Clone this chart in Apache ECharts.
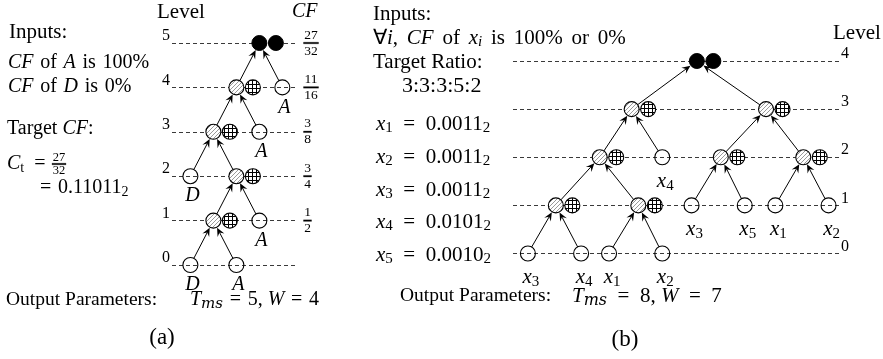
<!DOCTYPE html>
<html><head><meta charset="utf-8">
<script src="https://cdn.jsdelivr.net/npm/echarts@6/dist/echarts.min.js"></script>
<style>html,body{margin:0;padding:0;background:#fff}#c{width:883px;height:359px}</style>
</head><body><div id="c"></div>
<script>
// ---------- Panel (a) data ----------
const levelTicksA = ['0','1','2','3','4','5'];
const cfLevels = [1, 2, 3, 4, 5];
const cfNumerators = [1, 3, 3, 11, 27];
const cfDenominators = [2, 4, 8, 16, 32];
const nodeXA     = [0, 2, 1, 3, 0, 2, 1, 3, 2, 4, 3];
const nodeLevelA = [0, 0, 1, 1, 2, 2, 3, 3, 4, 4, 5];
const nodeKindA  = ['E','E','M','E','E','M','M','E','M','E','B'];
const nodeLabelA = ['D','A','','A','D','','','A','','A',''];
const edgesA = [[0,2],[1,2],[2,5],[3,5],[4,6],[5,6],[6,8],[7,8],[8,10],[9,10]];
const targetNum = 27, targetDen = 32, targetBinary = '0.11011';

// ---------- Panel (b) data ----------
const levelTicksB = ['0','1','2','3','4'];
const nodeXB     = [0, 2.0, 3.05, 5.05, 1.05, 4.15, 6.15, 8.15, 9.3, 11.3, 2.7, 5.05, 7.25, 10.35, 3.9, 8.95, 6.35];
const nodeLevelB = [0, 0, 0, 0, 1, 1, 1, 1, 1, 1, 2, 2, 2, 2, 3, 3, 4];
const nodeKindB  = ['E','E','E','E','M','M','E','E','E','E','M','E','M','M','M','M','B'];
const nodeLabelB = ['x3','x4','x1','x2','','','x3','x5','x1','x2','','x4','','','','',''];
const edgesB = [[0,4],[1,4],[2,5],[3,5],[4,10],[5,10],[6,12],[7,12],[8,13],[9,13],[10,14],[11,14],[12,15],[13,15],[14,16],[15,16]];
const ratioText = '3:3:3:5:2';
const xBinary = ['0.0011','0.0011','0.0011','0.0101','0.0010'];

// ---------- styles ----------
const F = '"Liberation Serif", "Times New Roman", serif';
const FW = '"DejaVu Serif", serif';
const R = 7.5;
const PAIR_DX = 16.5;
const X_MAX_A = 4.55, X_MIN_A = -0.8, X_MAX_B = 11.73, X_MIN_B = -0.56;
function makeHatch(){
  const c=document.createElement('canvas'); c.width=4; c.height=4;
  const g=c.getContext('2d'); g.fillStyle='#fff'; g.fillRect(0,0,4,4);
  g.strokeStyle='#808080'; g.lineWidth=0.8; g.beginPath();
  g.moveTo(0,4); g.lineTo(4,0); g.moveTo(-1,1); g.lineTo(1,-1); g.moveTo(3,5); g.lineTo(5,3); g.stroke();
  return {image:c, repeat:'repeat'};
}
function makeGrid(){
  const c=document.createElement('canvas'); c.width=4; c.height=4;
  const g=c.getContext('2d'); g.fillStyle='#fff'; g.fillRect(0,0,4,4);
  g.fillStyle='#000'; g.fillRect(0,0,4,1); g.fillRect(0,0,1,4);
  return {image:c, repeat:'repeat'};
}
const hatchFill = makeHatch();
const gridFill = makeGrid();

function makeRich(s){
  const sub = Math.round(s*0.7);
  const pad = Math.round(s*0.45);
  return {
    rm:  {fontFamily:F, fontSize:s, color:'#000'},
    it:  {fontFamily:F, fontSize:s, fontStyle:'italic', color:'#000'},
    tm:  {fontFamily:F, fontSize:21, color:'#000'},
    tmo: {fontFamily:F, fontSize:19.5, color:'#000'},
    tmr: {fontFamily:F, fontSize:22, color:'#000'},
    big: {fontFamily:F, fontSize:23, color:'#000'},
    sub: {fontFamily:F, fontSize:sub, color:'#000', padding:[pad,0,0,0]},
    subi:{fontFamily:F, fontSize:sub, fontStyle:'italic', color:'#000', padding:[pad,0,0,0]},
    subw:{fontFamily:FW, fontSize:sub+1, fontStyle:'italic', color:'#000', padding:[pad,0,0,0]}
  };
}
const richA = makeRich(20), richB = makeRich(21);
const EQ = '\u2002=\u2002';
const EQA = '\u2004=\u2004';
const SP = '\u2004\u200A';

function labelRich(lbl){
  if (lbl.length === 1) return '{it|' + lbl + '}';
  return '{it|' + lbl[0] + '}{sub|' + lbl.slice(1) + '}';
}

function edgeRenderer(){
  return function(params, api){
    const p1 = api.coord([api.value(0), api.value(1)]);
    const p2 = api.coord([api.value(2), api.value(3)]);
    const dx = p2[0]-p1[0], dy = p2[1]-p1[1];
    const len = Math.sqrt(dx*dx+dy*dy);
    const ux = dx/len, uy = dy/len, nx = -uy, ny = ux;
    const s = [p1[0]+ux*R, p1[1]+uy*R];
    const t = [p2[0]-ux*(R+0.5), p2[1]-uy*(R+0.5)];
    const L = 8.5, W = 3.8;
    const b = [t[0]-ux*L, t[1]-uy*L];
    const notch = [t[0]-ux*L*0.62, t[1]-uy*L*0.62];
    return {type:'group', children:[
      {type:'line', shape:{x1:s[0], y1:s[1], x2:notch[0], y2:notch[1]}, style:{stroke:'#000', lineWidth:1}},
      {type:'polygon', shape:{points:[t, [b[0]+nx*W, b[1]+ny*W], notch, [b[0]-nx*W, b[1]-ny*W]]}, style:{fill:'#000'}}
    ]};
  };
}

function nodeRenderer(kinds, labels, rich, ldx, ldy){
  return function(params, api){
    const i = params.dataIndex;
    const p = api.coord([api.value(0), api.value(1)]);
    const k = kinds[i];
    const ch = [];
    if (k === 'E') {
      ch.push({type:'circle', shape:{cx:p[0], cy:p[1], r:R}, style:{fill:'rgba(0,0,0,0)', stroke:'#000', lineWidth:1.1}});
    } else if (k === 'M') {
      ch.push({type:'circle', shape:{cx:p[0], cy:p[1], r:R}, style:{fill:hatchFill, stroke:'#000', lineWidth:1.1}});
      ch.push({type:'circle', shape:{cx:p[0]+PAIR_DX, cy:p[1], r:R}, style:{fill:gridFill, stroke:'#000', lineWidth:1.1}});
    } else {
      ch.push({type:'circle', shape:{cx:p[0], cy:p[1], r:R}, style:{fill:'#000', stroke:'#000', lineWidth:1}});
      ch.push({type:'circle', shape:{cx:p[0]+PAIR_DX, cy:p[1], r:R}, style:{fill:'#000', stroke:'#000', lineWidth:1}});
    }
    if (labels[i]) {
      ch.push({type:'text', x:p[0]+ldx, y:p[1]+ldy, style:{text:labelRich(labels[i]), rich:rich, align:'center', verticalAlign:'middle', textAlign:'center', textVerticalAlign:'middle'}});
    }
    return {type:'group', children:ch};
  };
}

function fracParts(cx, cy, num, den, size, dy){
  num = String(num); den = String(den);
  const w = size*0.52*Math.max(num.length, den.length) + 1;
  const ts = {fontSize:size, fontFamily:F, fill:'#000', align:'center', verticalAlign:'middle', textAlign:'center', textVerticalAlign:'middle'};
  const x0 = cx - w/2, x1 = cx + w/2, y0 = cy - 0.75, y1 = cy + 0.75;
  return [
    {type:'polygon', shape:{points:[[x0,y0],[x1,y0],[x1,y1],[x0,y1]]}, style:{fill:'#000', stroke:'#000', lineWidth:0.3}},
    {type:'text', x:cx, y:cy-dy, style:Object.assign({text:num}, ts)},
    {type:'text', x:cx, y:cy+dy, style:Object.assign({text:den}, ts)}
  ];
}

function cfRenderer(){
  return function(params, api){
    const i = params.dataIndex;
    const p = api.coord([api.value(0), api.value(1)]);
    const w = 13.5*0.52*Math.max(String(cfNumerators[i]).length, String(cfDenominators[i]).length);
    return {type:'group', children:fracParts(p[0]+9+w/2, p[1], cfNumerators[i], cfDenominators[i], 13.5, 8)};
  };
}

function txt(x, y, text, rich, align){
  align = align || 'left';
  return {type:'text', x:x, y:y, style:{text:text, rich:rich, align:align, textAlign:align, verticalAlign:'middle', textVerticalAlign:'middle'}};
}

const graphics = [
  // panel (a)
  txt(9, 32, '{tm|Inputs:}', richA),
  txt(8, 63, '{it|CF}{rm|\u2004of\u2004}{it|A}{rm|\u2004is\u2004100%}', richA),
  txt(8, 87, '{it|CF}{rm|\u2004of\u2004}{it|D}{rm|\u2004is\u20040%}', richA),
  txt(7, 129, '{rm|Target }{it|CF}{rm|:}', richA),
  txt(7, 164, '{it|C}{sub|t}{rm|' + EQ + '}', richA),
  {type:'group', children:fracParts(59, 164, targetNum, targetDen, 12.5, 6.5)},
  txt(40, 188, '{rm|=\u2004' + targetBinary + '}{sub|2}', richA),
  txt(6, 300, '{tmo|Output Parameters:}', richA),
  txt(190, 300, '{it|T}{subw|ms}{rm|' + EQA + '5, }{it|W}{rm|' + EQA + '4}', richA),
  txt(162, 338, '{big|(a)}', richA, 'center'),
  txt(157, 12, '{tm|Level}', richA),
  txt(292, 12, '{it|CF}', richA),
  // panel (b)
  txt(373, 14, '{tm|Inputs:}', richB),
  txt(373, 38, '{rm|\u2200}{it|i}{rm|,' + SP + '}{it|CF}{rm|' + SP + 'of' + SP + '}{it|x}{subi|i}{rm|' + SP + 'is' + SP + '100%' + SP + 'or' + SP + '0%}', richB),
  txt(373, 62, '{tm|Target Ratio:}', richB),
  txt(402, 86, '{tmr|' + ratioText + '}', richB),
  txt(400, 296, '{tmo|Output Parameters:}', richB),
  txt(572, 296, '{it|T}{subw|ms}{rm|' + EQ + '8, }{it|W}{rm|' + EQ + '7}', richB),
  txt(625, 340, '{big|(b)}', richB, 'center'),
  txt(833, 33, '{tm|Level}', richB)
];
const xRowsY = [124, 157, 190, 222, 255];
xBinary.forEach(function(v, i){
  graphics.push(txt(376, xRowsY[i], '{it|x}{sub|' + (i+1) + '}{rm|' + EQ + v + '}{sub|2}', richB));
});

const dash = {type:[4,3], color:'#3a3a3a', width:1};
const option = {
  animation:false,
  backgroundColor:'#fff',
  grid:[
    {left:172, top:43, width:123, height:222, outerBoundsMode:'none'},
    {left:513, top:61, width:327, height:192.5, outerBoundsMode:'none'}
  ],
  xAxis:[
    {gridIndex:0, type:'value', min:X_MIN_A, max:X_MAX_A, show:false},
    {gridIndex:1, type:'value', min:X_MIN_B, max:X_MAX_B, show:false}
  ],
  yAxis:[
    {gridIndex:0, type:'value', min:0, max:5, interval:1, position:'left',
     axisLine:{show:false}, axisTick:{show:false}, splitLine:{show:true, lineStyle:dash},
     axisLabel:{margin:2, fontFamily:F, fontSize:16, color:'#000', verticalAlign:'bottom', lineHeight:14,
       formatter:function(v){ return levelTicksA[Math.round(v)]; }}},
    {gridIndex:1, type:'value', min:0, max:4, interval:1, position:'right',
     axisLine:{show:false}, axisTick:{show:false}, splitLine:{show:true, lineStyle:dash},
     axisLabel:{margin:1, fontFamily:F, fontSize:16, color:'#000', verticalAlign:'bottom', lineHeight:14, align:'left',
       formatter:function(v){ return levelTicksB[Math.round(v)]; }}}
  ],
  graphic:graphics,
  series:[
    {type:'custom', xAxisIndex:0, yAxisIndex:0, silent:true, clip:false, renderItem:edgeRenderer(),
     data:edgesA.map(function(e){return [nodeXA[e[0]], nodeLevelA[e[0]], nodeXA[e[1]], nodeLevelA[e[1]]];})},
    {type:'custom', xAxisIndex:0, yAxisIndex:0, silent:true, clip:false, renderItem:nodeRenderer(nodeKindA, nodeLabelA, richA, 2, 20),
     data:nodeXA.map(function(x,i){return [x, nodeLevelA[i]];})},
    {type:'custom', xAxisIndex:0, yAxisIndex:0, silent:true, clip:false, renderItem:cfRenderer(),
     data:cfLevels.map(function(l){return [X_MAX_A, l];})},
    {type:'custom', xAxisIndex:1, yAxisIndex:1, silent:true, clip:false, renderItem:edgeRenderer(),
     data:edgesB.map(function(e){return [nodeXB[e[0]], nodeLevelB[e[0]], nodeXB[e[1]], nodeLevelB[e[1]]];})},
    {type:'custom', xAxisIndex:1, yAxisIndex:1, silent:true, clip:false, renderItem:nodeRenderer(nodeKindB, nodeLabelB, richB, 3, 24),
     data:nodeXB.map(function(x,i){return [x, nodeLevelB[i]];})}
  ]
};
const chart = echarts.init(document.getElementById('c'), null, {renderer:'canvas'});
chart.setOption(option);
</script>
</body></html>
